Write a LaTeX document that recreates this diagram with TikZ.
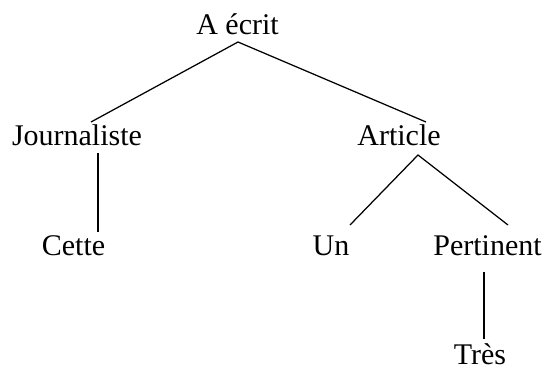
\documentclass[tikz,border=0pt]{standalone}
\usepackage{fontspec}
\setmainfont{Liberation Serif}
\begin{document}
\begin{tikzpicture}[x=1pt,y=-1pt,
  word/.style={anchor=base,inner sep=0pt,font=\fontsize{30}{36}\selectfont},
  edge/.style={line width=1.25pt,black}]
\useasboundingbox (0,0) rectangle (549,369);
\node[word] (aecrit) at (237.5,35) {A écrit};
\node[word] (journ) at (77,145) {Journaliste};
\node[word] (article) at (399,145) {Article};
\node[word] (cette) at (73.5,255) {Cette};
\node[word] (un) at (331,255) {Un};
\node[word] (pert) at (487.5,255) {Pertinent};
\node[word] (tres) at (480,364) {Très};
% connector end points
\coordinate (aTop) at (238,42);
\coordinate (jTop) at (91,122);
\coordinate (arTop) at (426,122);
\coordinate (jBot) at (98,153);
\coordinate (cTop) at (98,232);
\coordinate (arBot) at (418,155);
\coordinate (uTop) at (350,225);
\coordinate (pTop) at (508,225);
\coordinate (pBot) at (484,272);
\coordinate (tTop) at (484,339);
\draw[edge] (jTop) -- (aTop) -- (arTop);
\draw[edge] (jBot) -- (cTop);
\draw[edge] (uTop) -- (arBot) -- (pTop);
\draw[edge] (pBot) -- (tTop);
\end{tikzpicture}
\end{document}
